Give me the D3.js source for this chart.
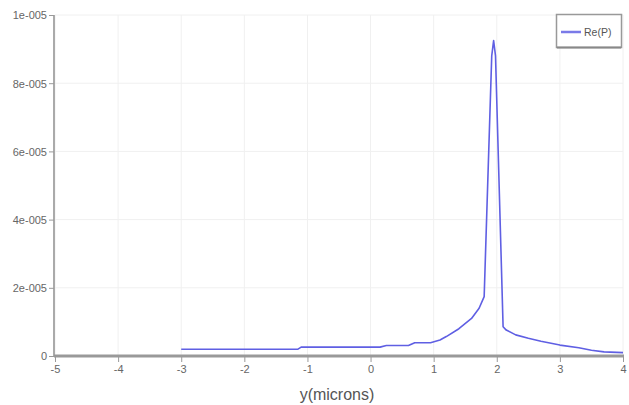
<!DOCTYPE html>
<html><head><meta charset="utf-8">
<script src="https://cdn.jsdelivr.net/npm/d3@7"></script>
<style>body{margin:0;background:#fff;}svg{display:block;font-family:"Liberation Sans",Arial,sans-serif;}</style>
</head><body><svg id="c" width="629" height="405"></svg>
<script>
const xVals = [-3, -1.15, -1.1, 0.15, 0.25, 0.6, 0.7, 0.95, 1.1, 1.2, 1.4, 1.6, 1.72, 1.8, 1.92, 1.95, 1.98, 2.1, 2.15, 2.3, 2.5, 2.7, 3.0, 3.3, 3.5, 3.7, 4.0];
const reP = [2.0e-6, 2.0e-6, 2.6e-6, 2.6e-6, 3.1e-6, 3.1e-6, 3.9e-6, 3.9e-6, 4.7e-6, 5.7e-6, 8.0e-6, 11.0e-6, 14.0e-6, 17.4e-6, 88.0e-6, 92.5e-6, 88.0e-6, 8.6e-6, 7.6e-6, 6.2e-6, 5.2e-6, 4.3e-6, 3.2e-6, 2.4e-6, 1.7e-6, 1.2e-6, 1.0e-6];
const xTicks = [-5, -4, -3, -2, -1, 0, 1, 2, 3, 4];
const yTicks = [0, 2e-5, 4e-5, 6e-5, 8e-5, 1e-4];
const yTickLabels = ["0", "2e-005", "4e-005", "6e-005", "8e-005", "1e-005"];
const seriesName = "Re(P)";
const xLabel = "y(microns)";

const svg = d3.select("#c");
const x = d3.scaleLinear().domain([-5, 4]).range([55, 623]);
const y = d3.scaleLinear().domain([0, 1e-4]).range([356, 15]);

// grid
svg.append("g").selectAll("line").data(xTicks).join("line")
  .attr("x1", d => x(d)).attr("x2", d => x(d)).attr("y1", 15).attr("y2", 356)
  .attr("stroke", "#f0f0f0").attr("stroke-width", 1);
svg.append("g").selectAll("line").data(yTicks.slice(1)).join("line")
  .attr("x1", 55).attr("x2", 623).attr("y1", d => y(d)).attr("y2", d => y(d))
  .attr("stroke", "#f0f0f0").attr("stroke-width", 1);

// y axis
const yAxis = d3.axisLeft(y).tickValues(yTicks).tickSize(5).tickPadding(2)
  .tickFormat((d, i) => yTickLabels[i]);
const gy = svg.append("g").attr("transform", "translate(54,0)").call(yAxis);
gy.select(".domain").attr("stroke", "#aaa").attr("stroke-width", 2).attr("d", "M0,15V356");
gy.selectAll(".tick line").attr("stroke", "#999");
gy.selectAll(".tick text").attr("fill", "#666").attr("font-size", 11).attr("dy", "0.35em");

// x axis
const xAxis = d3.axisBottom(x).tickValues(xTicks).tickSize(6).tickPadding(3).tickFormat(d => String(d));
const gx = svg.append("g").attr("transform", "translate(0,356)").call(xAxis);
gx.select(".domain").attr("stroke", "#999").attr("stroke-width", 3).attr("d", "M54,0H624");
gx.selectAll(".tick line").attr("stroke", "#999");
gx.selectAll(".tick text").attr("fill", "#666").attr("font-size", 11);

svg.append("text").attr("x", 337).attr("y", 400).attr("text-anchor", "middle")
  .attr("fill", "#555").attr("font-size", 16).text(xLabel);

// line
const line = d3.line().x((d, i) => x(xVals[i])).y(d => y(d));
svg.append("path").datum(reP).attr("d", line).attr("fill", "none")
  .attr("stroke", "#5f5fe3").attr("stroke-width", 1.6).attr("stroke-linejoin", "round");

// legend
const lg = svg.append("g");
lg.append("rect").attr("x", 556.5).attr("y", 14.5).attr("width", 65).attr("height", 33)
  .attr("fill", "#fff").attr("stroke", "#999").attr("stroke-width", 1.5);
lg.append("line").attr("x1", 557).attr("x2", 621).attr("y1", 47.5).attr("y2", 47.5)
  .attr("stroke", "#888").attr("stroke-width", 2);
lg.append("line").attr("x1", 561).attr("x2", 581).attr("y1", 32).attr("y2", 32)
  .attr("stroke", "#7a7ae8").attr("stroke-width", 2.5);
lg.append("text").attr("x", 584).attr("y", 36).attr("font-size", 10.5).attr("fill", "#555").text(seriesName);
</script></body></html>
